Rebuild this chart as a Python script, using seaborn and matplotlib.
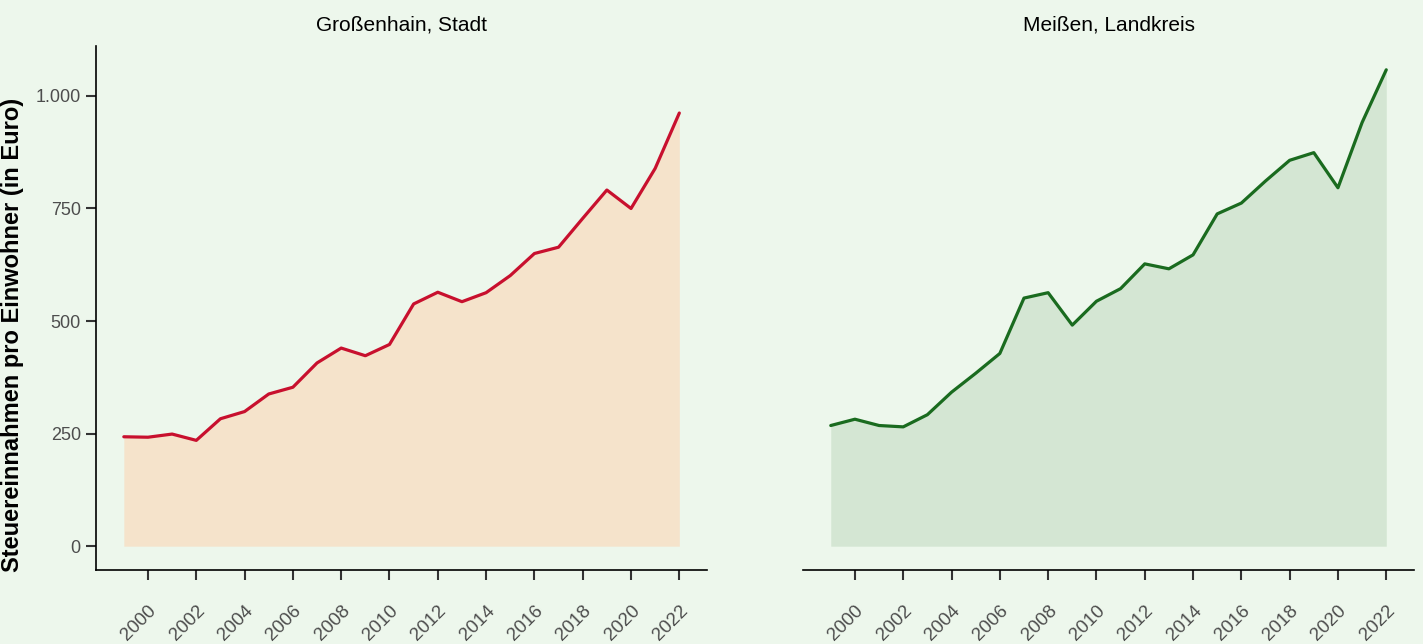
import matplotlib
matplotlib.use("Agg")
import matplotlib.pyplot as plt
import matplotlib.ticker as mticker
import pandas as pd
import seaborn as sns

# Data
years = list(range(1999, 2023))
grossenhain = [243, 242, 249, 235, 283, 299, 338, 353, 407, 440, 423, 448,
               538, 564, 543, 563, 601, 650, 664, 728, 791, 750, 839, 962]
meissen = [268, 282, 268, 265, 292, 342, 384, 428, 551, 563, 491, 544,
           572, 627, 616, 647, 738, 762, 811, 857, 874, 796, 941, 1058]
panel_titles = ["Großenhain, Stadt", "Meißen, Landkreis"]
y_label = "Steuereinnahmen pro Einwohner (in Euro)"

BG = "#EDF7EC"
LINE_COLORS = ["#C8102E", "#1A6B1F"]
FILL_COLORS = ["#F5E3CB", "#D4E6D3"]

sns.set_style("ticks")
plt.rcParams["font.family"] = ["Liberation Sans", "DejaVu Sans"]

df = pd.DataFrame({"year": years, "g": grossenhain, "m": meissen})

fig = plt.figure(figsize=(14.23, 6.44), dpi=100, facecolor=BG)
ax1 = fig.add_axes([0.0675, 0.1149, 0.4294, 0.8137])
ax2 = fig.add_axes([0.5643, 0.1149, 0.4294, 0.8137], sharey=ax1)

ymax = max(max(grossenhain), max(meissen))
span = years[-1] - years[0]

for ax, col, lc, fc, title in zip([ax1, ax2], ["g", "m"], LINE_COLORS,
                                  FILL_COLORS, panel_titles):
    ax.set_facecolor(BG)
    ax.fill_between(df["year"], 0, df[col], color=fc, linewidth=0)
    sns.lineplot(data=df, x="year", y=col, color=lc, linewidth=2.3, ax=ax)
    ax.set_xlim(years[0] - 0.05 * span, years[-1] + 0.05 * span)
    ax.set_ylim(-0.05 * ymax, 1.05 * ymax)
    ax.set_xticks(list(range(2000, 2023, 2)))
    for lbl in ax.get_xticklabels():
        lbl.set_rotation(45)
        lbl.set_ha("right")
        lbl.set_rotation_mode("anchor")
    ax.tick_params(axis="x", length=7, width=1.5, color="#333333",
                   labelsize=13.5, labelcolor="#4D4D4D", pad=16)
    ax.set_xlabel("")
    ax.set_ylabel("")
    ax.set_title(title, fontsize=15, pad=11, color="black")
    for s in ["top", "right"]:
        ax.spines[s].set_visible(False)
    ax.spines["bottom"].set_linewidth(1.2)
    ax.spines["left"].set_linewidth(1.2)
    ax.spines["bottom"].set_color("black")
    ax.spines["left"].set_color("black")

ax1.set_yticks([0, 250, 500, 750, 1000])
ax1.yaxis.set_major_formatter(mticker.FuncFormatter(lambda v, p: f"{int(v):,}".replace(",", ".")))
ax1.tick_params(axis="y", length=7, width=1.5, color="#333333",
                labelsize=13, labelcolor="#4D4D4D", pad=4)
ax1.set_ylabel(y_label, fontsize=17, fontweight="bold", color="black")
ax1.yaxis.set_label_coords(-0.118, 0.448)

ax2.spines["left"].set_visible(False)
ax2.tick_params(axis="y", left=False, labelleft=False)

fig.savefig("out.png", dpi=100, facecolor=BG)
